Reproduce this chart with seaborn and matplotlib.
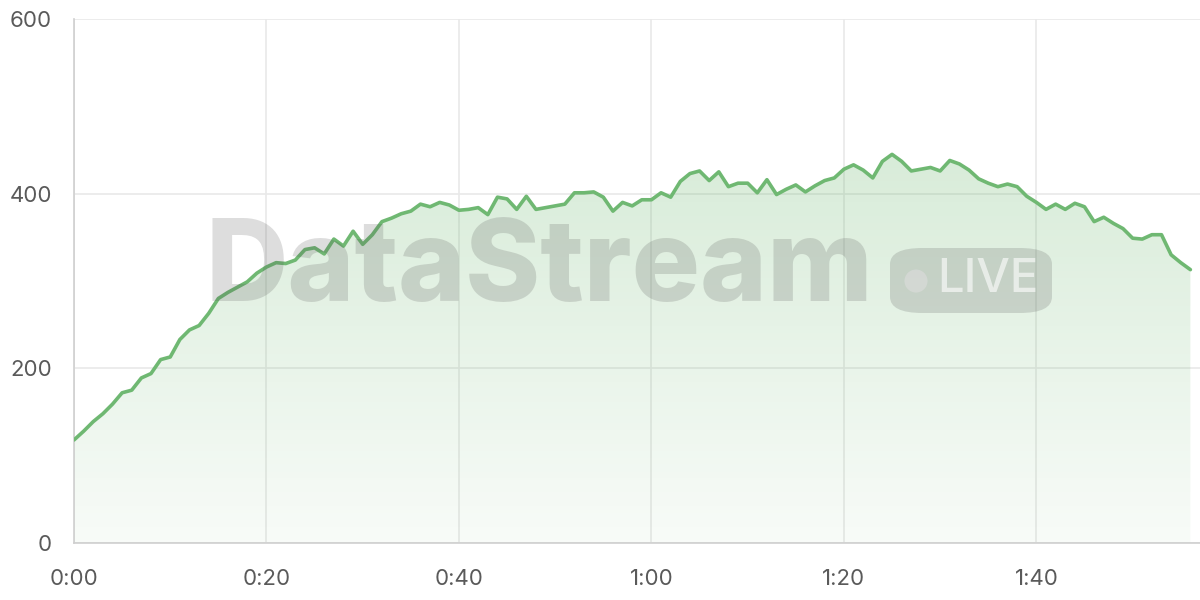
import numpy as np
import pandas as pd
import matplotlib
matplotlib.use("Agg")
import matplotlib.pyplot as plt
import seaborn as sns
from matplotlib.colors import LinearSegmentedColormap
from matplotlib.patches import FancyBboxPatch

# ---- data ----
values = [
    118, 128, 139, 148, 159, 172, 175, 189, 194, 210,
    213, 233, 244, 249, 263, 280, 287, 293, 299, 309,
    316, 321, 320, 324, 336, 338, 331, 348, 340, 357,
    342, 353, 368, 372, 377, 380, 388, 385, 390, 387,
    381, 382, 384, 376, 396, 394, 382, 397, 382, 384,
    386, 388, 401, 401, 402, 396, 380, 390, 386, 393,
    393, 401, 396, 414, 423, 426, 415, 425, 408, 412,
    412, 401, 416, 399, 405, 410, 402, 409, 415, 418,
    428, 433, 427, 418, 437, 445, 437, 426, 428, 430,
    426, 438, 434, 427, 417, 412, 408, 411, 408, 397,
    390, 382, 388, 382, 389, 385, 368, 373, 366, 360,
    349, 348, 353, 353, 330, 321, 313,
]
seconds = list(range(len(values)))
tick_positions = [0, 20, 40, 60, 80, 100]
tick_labels = ["0:00", "0:20", "0:40", "1:00", "1:20", "1:40"]
y_ticks = [0, 200, 400, 600]
watermark_text = "DataStream"
badge_text = "LIVE"

df = pd.DataFrame({"t": seconds, "v": values})

sns.set_theme(style="white")
plt.rcParams["font.family"] = ["Inter", "DejaVu Sans"]

LINE = "#6fb872"
GRID = "#e9e9e9"
AXIS = "#cfcfcf"
TXT = "#5a5a5a"

fig = plt.figure(figsize=(12, 6), dpi=100)
ax = fig.add_axes([74 / 1200, 57 / 600, 1 - 74 / 1200, (543 - 19) / 600])

# gradient fill under line
fill = ax.fill_between(df["t"], df["v"], 0, color="none", lw=0)
cmap = LinearSegmentedColormap.from_list(
    "g", [(0.435, 0.722, 0.447, 0.05), (0.435, 0.722, 0.447, 0.27)])
grad = np.linspace(0, 1, 256).reshape(-1, 1)
img = ax.imshow(grad, cmap=cmap, aspect="auto", origin="lower",
                extent=[0, 117, 0, max(values)], zorder=1)
img.set_clip_path(fill.get_paths()[0], transform=ax.transData)

sns.lineplot(data=df, x="t", y="v", ax=ax, color=LINE, lw=2.6, zorder=4)

ax.set_xlim(0, 117)
ax.set_ylim(0, 600)
ax.set_xticks(tick_positions)
ax.set_xticklabels(tick_labels)
ax.set_yticks(y_ticks)
ax.set_xlabel("")
ax.set_ylabel("")
ax.grid(True, color=GRID, lw=1.2, zorder=0)
ax.set_axisbelow(True)
for s in ["top", "right"]:
    ax.spines[s].set_visible(False)
for s in ["left", "bottom"]:
    ax.spines[s].set_color(AXIS)
    ax.spines[s].set_linewidth(1.2)
ax.tick_params(axis="both", length=11, width=1.2, color=GRID,
               labelsize=16, labelcolor=TXT)
ax.tick_params(axis="x", pad=8)
ax.tick_params(axis="y", pad=5)

# watermark
fig.text(205 / 1200, (600 - 271) / 600, watermark_text,
         fontsize=82, fontweight="heavy", color="#555555", alpha=0.2,
         ha="left", va="center", zorder=3, family=["Inter", "DejaVu Sans"])
pill = FancyBboxPatch((890 / 1200, (600 - 313) / 600), 162 / 1200, 65 / 600,
                      boxstyle="round,pad=0,rounding_size=0.027",
                      transform=fig.transFigure, facecolor="#555555",
                      alpha=0.2, edgecolor="none", zorder=3)
fig.patches.append(pill)
fig.text(937 / 1200, (600 - 280) / 600, badge_text, fontsize=34,
         fontweight="medium", color="white", alpha=0.6, ha="left",
         va="center", zorder=5, family=["Inter", "DejaVu Sans"])
dot = plt.Circle((916, 600 - 281), 11.5, transform=None, facecolor="white",
                 alpha=0.6, edgecolor="none")
fig.patches.append(dot)

fig.savefig("out.png", dpi=100)
